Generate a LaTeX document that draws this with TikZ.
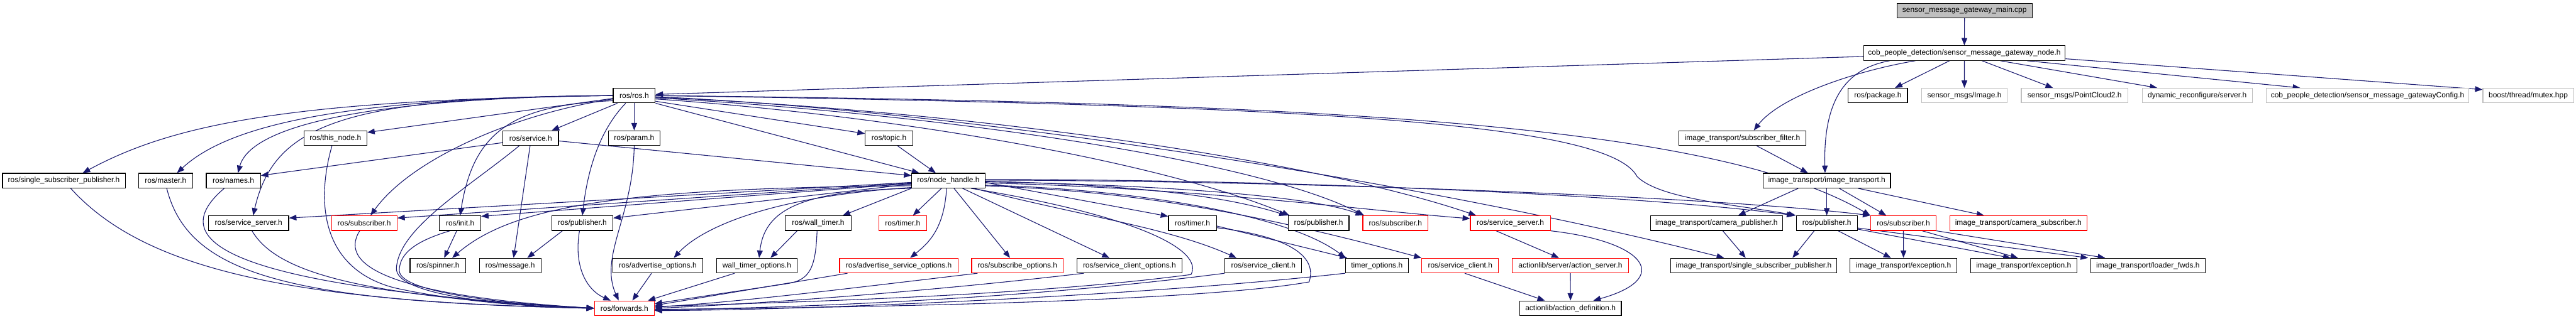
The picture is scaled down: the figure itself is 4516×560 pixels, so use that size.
\documentclass[tikz,border=0pt]{standalone}
\usepackage{fontspec}
\setmainfont{Liberation Sans}
\usetikzlibrary{arrows.meta}
\definecolor{edgeblue}{HTML}{191970}
\definecolor{boxgray}{HTML}{BFBFBF}
\pgfdeclarelayer{edges}
\pgfsetlayers{edges,main}
\tikzset{
  nbox/.style={draw=black, fill=white, line width=1.3pt, minimum height=25.7pt, inner sep=0pt,
               font=\fontsize{13.2}{15}\selectfont},
  rbox/.style={nbox, draw=red},
  gbox/.style={nbox, draw=boxgray},
  rootbox/.style={nbox, fill=boxgray},
  dep/.style={draw=edgeblue, line width=1.2pt, -{Triangle[length=13pt,width=10pt]}}
}
\begin{document}
\begin{tikzpicture}[x=1pt,y=-1pt]
\useasboundingbox (0,0) rectangle (4516,560);
% row 0/1
\node[rootbox, minimum width=237pt] (main) at (3444,18.5) {sensor\_message\_gateway\_main.cpp};
\node[nbox, minimum width=353.6pt] (gw) at (3443.7,93.2) {cob\_people\_detection/sensor\_message\_gateway\_node.h};
% row 2
\node[nbox, minimum width=73.7pt] (ros) at (1111.8,167.8) {ros/ros.h};
\node[nbox, minimum width=104pt] (pkg) at (3292,167.8) {ros/package.h};
\node[gbox, minimum width=150.7pt] (img) at (3443.8,167.8) {sensor\_msgs/Image.h};
\node[gbox, minimum width=187pt] (pc2) at (3637,167.8) {sensor\_msgs/PointCloud2.h};
\node[gbox, minimum width=193pt] (dyn) at (3851.9,167.8) {dynamic\_reconfigure/server.h};
\node[gbox, minimum width=355.8pt] (cfg) at (4150.5,167.8) {cob\_people\_detection/sensor\_message\_gatewayConfig.h};
\node[gbox, minimum width=159pt] (mtx) at (4432.2,167.8) {boost/thread/mutex.hpp};
% row 3
\node[nbox, minimum width=110.5pt] (thisnode) at (588,242.5) {ros/this\_node.h};
\node[nbox, minimum width=97.5pt] (service) at (930.3,242.5) {ros/service.h};
\node[nbox, minimum width=90pt] (param) at (1111.8,242.5) {ros/param.h};
\node[nbox, minimum width=83.4pt] (topic) at (1558.5,242.5) {ros/topic.h};
\node[nbox, minimum width=222.7pt] (subfilt) at (3054.6,242.5) {image\_transport/subscriber\_filter.h};
% row 4
\node[nbox, minimum width=215.2pt] (ssp) at (112,317.2) {ros/single\_subscriber\_publisher.h};
\node[nbox, minimum width=95pt] (master) at (290.3,317.2) {ros/master.h};
\node[nbox, minimum width=95pt] (names) at (409.1,317.2) {ros/names.h};
\node[nbox, minimum width=128.4pt] (nh) at (1662.5,317.2) {ros/node\_handle.h};
\node[nbox, minimum width=223.3pt] (it) at (3202.5,317.2) {image\_transport/image\_transport.h};
% row 5
\node[nbox, minimum width=140.5pt] (ssrv) at (435.8,391.8) {ros/service\_server.h};
\node[rbox, minimum width=114.8pt] (sub1) at (638.6,391.8) {ros/subscriber.h};
\node[nbox, minimum width=72.3pt] (init) at (806.7,391.8) {ros/init.h};
\node[nbox, minimum width=107.1pt] (pub1) at (1020.9,391.8) {ros/publisher.h};
\node[nbox, minimum width=114.9pt] (wtimer) at (1434.4,391.8) {ros/wall\_timer.h};
\node[rbox, minimum width=83.8pt] (timer1) at (1582.5,391.8) {ros/timer.h};
\node[nbox, minimum width=83.9pt] (timer2) at (2090.5,391.8) {ros/timer.h};
\node[nbox, minimum width=106.6pt] (pub2) at (2311.6,391.8) {ros/publisher.h};
\node[rbox, minimum width=114.3pt] (sub2) at (2446.4,391.8) {ros/subscriber.h};
\node[rbox, minimum width=140.1pt] (ssrv2) at (2647.8,391.8) {ros/service\_server.h};
\node[nbox, minimum width=231.8pt] (campub) at (3009.2,391.8) {image\_transport/camera\_publisher.h};
\node[nbox, minimum width=107pt] (pub3) at (3202.5,391.8) {ros/publisher.h};
\node[rbox, minimum width=114.9pt] (sub3) at (3336.8,391.8) {ros/subscriber.h};
\node[rbox, minimum width=240.3pt] (camsub) at (3538.3,391.8) {image\_transport/camera\_subscriber.h};
% row 6
\node[nbox, minimum width=97.8pt] (spinner) at (767.7,466.3) {ros/spinner.h};
\node[nbox, minimum width=108.1pt] (message) at (894.4,466.3) {ros/message.h};
\node[nbox, minimum width=157.6pt] (advopt) at (1153.2,466.3) {ros/advertise\_options.h};
\node[nbox, minimum width=141.1pt] (wtopt) at (1326.8,466.3) {wall\_timer\_options.h};
\node[rbox, minimum width=207.3pt] (advsrvopt) at (1575.6,466.3) {ros/advertise\_service\_options.h};
\node[rbox, minimum width=160.5pt] (subopt) at (1783.7,466.3) {ros/subscribe\_options.h};
\node[nbox, minimum width=183.7pt] (scopt) at (1980,466.3) {ros/service\_client\_options.h};
\node[nbox, minimum width=134.6pt] (sc1) at (2214.7,466.3) {ros/service\_client.h};
\node[nbox, minimum width=110.1pt] (topt) at (2413.7,466.3) {timer\_options.h};
\node[rbox, minimum width=134.7pt] (sc2) at (2559.8,466.3) {ros/service\_client.h};
\node[rbox, minimum width=203.1pt] (asrv) at (2753,466.3) {actionlib/server/action\_server.h};
\node[nbox, minimum width=290.5pt] (itssp) at (3074.4,466.3) {image\_transport/single\_subscriber\_publisher.h};
\node[nbox, minimum width=187pt] (exc1) at (3337,466.3) {image\_transport/exception.h};
\node[nbox, minimum width=186.6pt] (exc2) at (3547.7,466.3) {image\_transport/exception.h};
\node[nbox, minimum width=200.4pt] (ldr) at (3765.5,466.3) {image\_transport/loader\_fwds.h};
% row 7
\node[rbox, minimum width=105.1pt] (fwd) at (1094.6,541.2) {ros/forwards.h};
\node[nbox, minimum width=178.4pt] (adef) at (2753.2,541.2) {actionlib/action\_definition.h};

\begin{pgfonlayer}{edges}
\fill[white] (0,0) rectangle (4516,560);
% gateway
\draw[dep] (main.south) -- (gw.north);
\draw[dep] ([yshift=-6pt]gw.west) -- ([yshift=2pt]ros.east);
\draw[dep] ([xshift=-26pt]gw.south) -- ([xshift=30pt]pkg.north);
\draw[dep] (gw.south) -- (img.north);
\draw[dep] ([xshift=31pt]gw.south) -- ([xshift=-38pt]pc2.north);
\draw[dep] ([xshift=63pt]gw.south) -- ([xshift=-70pt]dyn.north);
\draw[dep] ([xshift=110pt]gw.south) -- ([xshift=-118pt]cfg.north);
\draw[dep] ([yshift=-10pt]gw.east) -- ([yshift=-3pt]mtx.north west);
\draw[dep] ([xshift=-86pt]gw.south) .. controls (3250,125) and (3120,170) .. ([xshift=20pt]subfilt.north);
\draw[dep] ([xshift=-131pt]gw.south) .. controls (3240,120) and (3196,170) .. ([xshift=-3pt]it.north);
\draw[dep] ([xshift=25pt]subfilt.south) -- ([xshift=-33pt]it.north);
% ros.h
\draw[dep] ([yshift=-5pt]ros.west) -- ([yshift=10pt]thisnode.east);
\draw[dep] ([xshift=8pt]ros.south west) -- ([xshift=37pt]service.north);
\draw[dep] (ros.south) -- (param.north);
\draw[dep] ([yshift=-10pt]ros.east) -- ([yshift=8pt]topic.west);
\draw[dep] (ros.south east) -- ([xshift=-51pt]nh.north);
\draw[dep] ([yshift=-3pt]ros.east) .. controls (1700,195) and (2300,280) .. ([xshift=-60pt]ssrv2.north);
\draw[dep] ([yshift=-4pt]ros.east) .. controls (1650,200) and (2200,280) .. ([xshift=-55pt]sub2.north);
\draw[dep] ([yshift=-6pt]ros.east) .. controls (1600,205) and (2050,290) .. ([xshift=3pt]pub2.north west);
\draw[dep] ([yshift=-2pt]ros.east) .. controls (1700,195) and (2500,320) .. ([xshift=-52pt]itssp.north);
\draw[dep] (ros.east) .. controls (2300,180) and (3000,215) .. (sub3.north west);
\draw[dep] (ros.east) .. controls (2300,185) and (2820,215) .. (2870,310) .. controls (2910,350) and (3050,360) .. (pub3.north west);
\draw[dep] (ros.west) .. controls (500,175) and (300,220) .. ([xshift=33pt]ssp.north);
\draw[dep] (ros.west) .. controls (600,172) and (400,220) .. ([xshift=20pt]master.north);
\draw[dep] (ros.west) .. controls (650,172) and (440,220) .. ([xshift=8pt]names.north);
\draw[dep] (ros.west) .. controls (600,170) and (480,220) .. ([xshift=8pt]ssrv.north);
\draw[dep] ([yshift=-6pt]ros.west) .. controls (900,200) and (720,280) .. ([xshift=11pt]sub1.north);
\draw[dep] ([yshift=-9pt]ros.west) .. controls (900,185) and (830,230) .. (init.north);
\draw[dep] ([xshift=-15pt]ros.south) .. controls (1050,230) and (1030,300) .. (pub1.north);
% service.h
\draw[dep] ([yshift=-8pt]service.west) -- ([yshift=9pt]names.east);
\draw[dep] ([yshift=-5pt]service.east) -- ([yshift=9pt]nh.west);
\draw[dep] ([xshift=-1pt]service.south) -- ([xshift=6pt]message.north);
\draw[dep] ([xshift=-20pt]service.south) .. controls (820,330) and (700,400) .. (695,470) .. controls (690,520) and (900,538) .. (fwd.west);
% topic, this_node
\draw[dep] ([xshift=15pt]topic.south) -- ([xshift=-22pt]nh.north);
\draw[dep] ([xshift=-6pt]thisnode.south) .. controls (555,350) and (560,470) .. (690,505) .. controls (800,530) and (950,540) .. (fwd.west);
% left column into forwards
\draw[dep] ([xshift=12pt]ssp.south) .. controls (250,470) and (500,530) .. (fwd.west);
\draw[dep] ([xshift=2pt]master.south) .. controls (330,480) and (500,530) .. (fwd.west);
\draw[dep] ([xshift=-16pt]names.south) .. controls (300,410) and (340,500) .. (fwd.west);
\draw[dep] ([xshift=6pt]ssrv.south) .. controls (480,470) and (600,520) .. (fwd.west);
\draw[dep] ([xshift=-8pt]sub1.south) .. controls (590,470) and (700,520) .. (fwd.west);
\draw[dep] ([xshift=-18pt]init.south) .. controls (740,420) and (700,440) .. (700,475) .. controls (700,515) and (900,535) .. (fwd.west);
\draw[dep] ([xshift=-6pt]init.south) -- ([xshift=11pt]spinner.north);
% publisher / param / options into forwards
\draw[dep] ([xshift=-5pt]pub1.south) .. controls (1005,470) and (1030,510) .. ([xshift=-24pt]fwd.north);
\draw[dep] ([xshift=-35pt]pub1.south) -- ([xshift=30pt]message.north);
\draw[dep] (param.south) .. controls (1110,380) and (1050,450) .. ([xshift=-10pt]fwd.north);
\draw[dep] ([xshift=-11pt]advopt.south) -- ([xshift=14pt]fwd.north);
\draw[dep] ([xshift=-39pt]wtopt.south) -- ([xshift=-12pt]fwd.north east);
\draw[dep] ([xshift=-2pt]wtimer.south) .. controls (1430,470) and (1420,492) .. (1380,498) .. controls (1300,510) and (1200,525) .. ([yshift=8pt]fwd.east);
\draw[dep] ([xshift=-37pt]wtimer.south) -- ([xshift=24pt]wtopt.north);
% node_handle to the left
\draw[dep] ([yshift=-3pt]nh.west) -- ([yshift=9pt]ssrv.east);
\draw[dep] ([yshift=-4pt]nh.west) -- ([yshift=9pt]sub1.east);
\draw[dep] ([yshift=-5pt]nh.west) -- ([yshift=12pt]init.east);
\draw[dep] ([yshift=-6pt]nh.west) -- ([yshift=9pt]pub1.east);
\draw[dep] ([yshift=-9pt]nh.west) .. controls (1100,330) and (900,360) .. ([xshift=25pt]spinner.north);
\draw[dep] ([yshift=-12pt]nh.west) .. controls (1350,345) and (1230,400) .. ([xshift=28pt]advopt.north);
\draw[dep] (nh.south west) .. controls (1400,335) and (1340,370) .. ([xshift=4pt]wtopt.north);
\draw[dep] (nh.south west) -- ([xshift=43pt]wtimer.north);
% node_handle downwards
\draw[dep] ([xshift=-12pt]nh.south) -- ([xshift=18pt]timer1.north);
\draw[dep] ([xshift=-3pt]nh.south) .. controls (1655,400) and (1630,425) .. ([xshift=20pt]advsrvopt.north);
\draw[dep] ([xshift=10pt]nh.south) -- ([xshift=-13pt]subopt.north);
\draw[dep] ([xshift=25pt]nh.south) -- ([xshift=-35pt]scopt.north);
\draw[dep] ([xshift=45pt]nh.south) .. controls (1900,380) and (2050,400) .. ([xshift=-47pt]sc1.north);
\draw[dep] ([xshift=40pt]nh.south) .. controls (2000,380) and (2110,440) .. (2088,482) .. controls (1800,520) and (1400,530) .. ([yshift=3pt]fwd.east);
% node_handle to the right
\draw[dep] ([yshift=-3pt]nh.east) -- ([yshift=12pt]timer2.west);
\draw[dep] ([yshift=-8pt]nh.east) .. controls (1950,330) and (2250,370) .. ([xshift=-55pt]topt.north);
\draw[dep] ([yshift=-9pt]nh.east) .. controls (1950,335) and (2150,360) .. (sc2.north west);
\draw[dep] ([yshift=-1pt]nh.east) .. controls (2000,325) and (2150,345) .. ([xshift=-2pt]pub2.north west);
\draw[dep] ([yshift=-2pt]nh.east) .. controls (2050,325) and (2300,345) .. ([xshift=-57pt]sub2.north);
\draw[dep] ([yshift=-4pt]nh.east) .. controls (2100,330) and (2400,370) .. ([yshift=8pt]ssrv2.west);
\draw[dep] ([yshift=2pt]nh.east) .. controls (2300,315) and (2900,345) .. ([xshift=-3pt]pub3.north west);
\draw[dep] ([yshift=1pt]nh.east) .. controls (2300,318) and (3000,345) .. (sub3.north west);
% timer.h
\draw[dep] ([yshift=-5pt]timer2.east) -- ([xshift=-52pt]topt.north);
\draw[dep] ([yshift=-8pt]timer2.east) .. controls (2260,415) and (2310,450) .. (2295,495) .. controls (2100,530) and (1500,540) .. ([yshift=-2pt]fwd.east);
% remaining into forwards from the right
\draw[dep] (topt.south west) .. controls (2000,520) and (1400,545) .. ([yshift=-4pt]fwd.east);
\draw[dep] (sc1.south west) .. controls (1800,525) and (1400,540) .. ([yshift=-3pt]fwd.east);
\draw[dep] ([xshift=-80pt]scopt.south) .. controls (1600,515) and (1300,535) .. (fwd.east);
\draw[dep] ([xshift=-70pt]subopt.south) .. controls (1500,505) and (1300,530) .. ([yshift=2pt]fwd.east);
\draw[dep] ([xshift=-90pt]advsrvopt.south) -- ([yshift=5pt]fwd.east);
% actionlib
\draw[dep] ([xshift=-25pt]ssrv2.south) -- ([xshift=-20pt]asrv.north);
\draw[dep] (ssrv2.south east) .. controls (2890,425) and (2930,490) .. ([xshift=40pt]adef.north);
\draw[dep] (asrv.south) -- (adef.north);
\draw[dep] ([xshift=8pt]sc2.south) -- ([xshift=-45pt]adef.north);
% image_transport
\draw[dep] ([xshift=-50pt]it.south) -- ([xshift=38pt]campub.north);
\draw[dep] (it.south) -- (pub3.north);
\draw[dep] ([xshift=22pt]it.south) -- ([xshift=-30pt]sub3.north);
\draw[dep] ([xshift=55pt]it.south) -- ([xshift=-60pt]camsub.north);
\draw[dep] ([xshift=11pt]campub.south) -- ([xshift=-14pt]itssp.north);
\draw[dep] ([xshift=-22pt]pub3.south) -- ([xshift=68pt]itssp.north);
\draw[dep] ([xshift=20pt]pub3.south) -- ([xshift=-22pt]exc1.north);
\draw[dep] ([yshift=3pt]pub3.south east) -- ([xshift=-23pt]exc2.north);
\draw[dep] ([yshift=5pt]pub3.south east) -- ([xshift=-4pt]ldr.north west);
\draw[dep] (sub3.south) -- (exc1.north);
\draw[dep] ([xshift=33pt]sub3.south) -- ([xshift=-10pt]exc2.north);
\draw[dep] (sub3.south east) -- ([xshift=-75pt]ldr.north);
\end{pgfonlayer}
\end{tikzpicture}
\end{document}
